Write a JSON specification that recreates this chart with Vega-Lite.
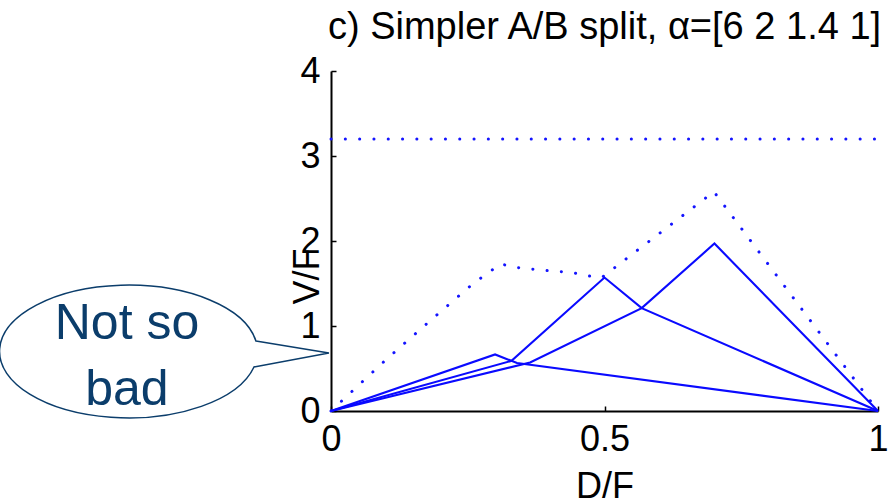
{
  "$schema": "https://vega.github.io/schema/vega-lite/v6.json",
  "width": 547,
  "height": 340,
  "autosize": {"type": "none"},
  "padding": {"left": 331, "top": 71, "right": 11, "bottom": 92},
  "config": {"view": {"stroke": null}, "font": "Liberation Sans"},
  "title": {
    "text": "c) Simpler A/B split, α=[6 2 1.4 1]",
    "fontSize": 38,
    "fontWeight": "normal",
    "color": "#000000",
    "font": "Liberation Sans",
    "anchor": "middle",
    "frame": "group",
    "baseline": "alphabetic",
    "offset": -24
  },
  "datasets": {
    "solid": [
      {"series": "A", "x": 0, "y": 0},
      {"series": "A", "x": 0.30, "y": 0.665},
      {"series": "A", "x": 0.34, "y": 0.565},
      {"series": "A", "x": 1, "y": 0},
      {"series": "B", "x": 0, "y": 0},
      {"series": "B", "x": 0.33, "y": 0.59},
      {"series": "B", "x": 0.50, "y": 1.57},
      {"series": "B", "x": 0.568, "y": 1.21},
      {"series": "B", "x": 1, "y": 0},
      {"series": "C", "x": 0, "y": 0},
      {"series": "C", "x": 0.364, "y": 0.57},
      {"series": "C", "x": 0.568, "y": 1.21},
      {"series": "C", "x": 0.701, "y": 1.97},
      {"series": "C", "x": 1, "y": 0}
    ],
    "dotted": [
      {"series": "bound", "x": 0, "y": 0},
      {"series": "bound", "x": 0.05, "y": 0.30},
      {"series": "bound", "x": 0.10, "y": 0.60},
      {"series": "bound", "x": 0.18, "y": 1.055},
      {"series": "bound", "x": 0.26, "y": 1.50},
      {"series": "bound", "x": 0.31, "y": 1.73},
      {"series": "bound", "x": 0.337, "y": 1.69},
      {"series": "bound", "x": 0.39, "y": 1.655},
      {"series": "bound", "x": 0.44, "y": 1.63},
      {"series": "bound", "x": 0.47, "y": 1.59},
      {"series": "bound", "x": 0.495, "y": 1.57},
      {"series": "bound", "x": 0.70, "y": 2.58},
      {"series": "bound", "x": 1, "y": 0},
      {"series": "top", "x": 0, "y": 3.2},
      {"series": "top", "x": 1, "y": 3.2}
    ],
    "callout": [
      {"x": -0.3693, "y": 0.70, "label": "Not so\nbad", "tx": -0.373, "ty": 0.847}
    ]
  },
  "encoding": {
    "x": {
      "field": "x",
      "type": "quantitative",
      "scale": {"domain": [0, 1], "nice": false, "zero": false},
      "axis": {
        "values": [0, 0.5, 1],
        "format": "~g",
        "title": "D/F",
        "titleFont": "Liberation Sans",
        "titleFontSize": 36,
        "titleFontWeight": "normal",
        "titleColor": "#000000",
        "titleY": 86,
        "titleBaseline": "alphabetic",
        "labelFont": "Liberation Sans",
        "labelFontSize": 36,
        "labelColor": "#000000",
        "labelPadding": 16,
        "labelFlush": false,
        "labelOverlap": false,
        "tickSize": -5,
        "tickColor": "#000000",
        "tickWidth": 1.5,
        "domainColor": "#000000",
        "domainWidth": 2,
        "grid": false
      }
    },
    "y": {
      "field": "y",
      "type": "quantitative",
      "scale": {"domain": [0, 4], "nice": false},
      "axis": {
        "values": [0, 1, 2, 3, 4],
        "title": "V/F",
        "titleFont": "Liberation Sans",
        "titleFontSize": 36,
        "titleFontWeight": "normal",
        "titleColor": "#000000",
        "titleAngle": 270,
        "titleX": -13,
        "titleY": 205,
        "titleBaseline": "alphabetic",
        "labelFont": "Liberation Sans",
        "labelFontSize": 36,
        "labelColor": "#000000",
        "labelPadding": 16,
        "labelFlush": false,
        "labelOverlap": false,
        "tickSize": -5,
        "tickColor": "#000000",
        "tickWidth": 1.5,
        "domainColor": "#000000",
        "domainWidth": 2,
        "grid": false
      }
    }
  },
  "layer": [
    {
      "data": {"name": "dotted"},
      "mark": {"type": "line", "color": "#1414ff", "strokeWidth": 3, "strokeDash": [0.1, 14.2], "strokeCap": "round"},
      "encoding": {"detail": {"field": "series"}}
    },
    {
      "data": {"name": "solid"},
      "mark": {"type": "line", "color": "#0a0aff", "strokeWidth": 2.1},
      "encoding": {"detail": {"field": "series"}}
    },
    {
      "data": {"name": "callout"},
      "mark": {
        "type": "point",
        "shape": "M 0.984 -0.081 L 1.55 0.012 L 0.969 0.12 A 1 0.515 0 1 1 0.984 -0.081 Z",
        "size": 66564,
        "fill": "#ffffff",
        "fillOpacity": 1,
        "stroke": "#0b3d6b",
        "strokeWidth": 1.5,
        "strokeOpacity": 1,
        "opacity": 1
      }
    },
    {
      "data": {"name": "callout"},
      "mark": {
        "type": "text",
        "font": "Liberation Sans",
        "fontSize": 50,
        "color": "#0b3d6b",
        "align": "center",
        "baseline": "alphabetic",
        "lineBreak": "\n",
        "lineHeight": 66
      },
      "encoding": {
        "x": {"field": "tx", "type": "quantitative"},
        "y": {"field": "ty", "type": "quantitative"},
        "text": {"field": "label"}
      }
    }
  ]
}
